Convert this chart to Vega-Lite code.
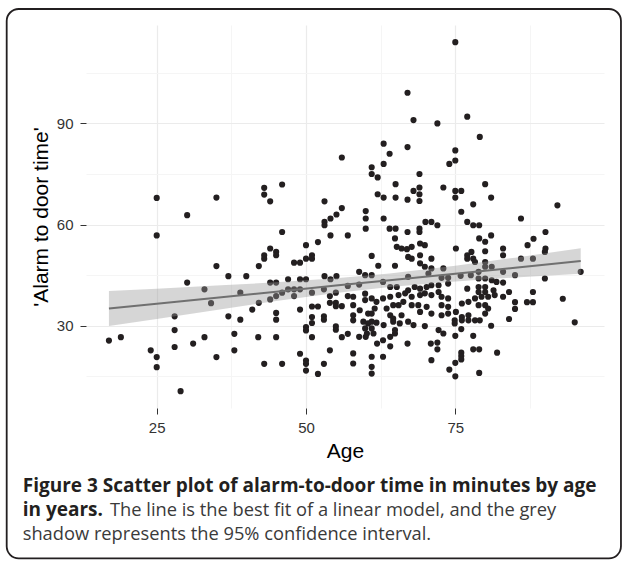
{
  "$schema": "https://vega.github.io/schema/vega-lite/v6.json",
  "width": 518,
  "height": 383,
  "autosize": "none",
  "padding": {"left": 86, "top": 25, "right": 20, "bottom": 154},
  "background": "white",
  "config": {
    "view": {"stroke": null},
    "axis": {"labelFont": "Liberation Sans", "titleFont": "Liberation Sans"}
  },
  "datasets": {
    "pts": [
      {"age":56,"time":79.9},{"age":25,"time":67.9},{"age":35,"time":68},{"age":30.1,"time":62.8},{"age":43,"time":70.9},{"age":43,"time":68.9},{"age":46,"time":71.9},{"age":44,"time":66.9},{"age":53.1,"time":66.9},{"age":56,"time":64.9},{"age":55.1,"time":63},{"age":54.1,"time":61.8},{"age":53.1,"time":60.8},{"age":53.1,"time":59.8},{"age":25,"time":56.8},{"age":46,"time":57.8},{"age":54.1,"time":56.8},{"age":57,"time":56.8},{"age":50,"time":53.9},{"age":52,"time":54.8},{"age":44,"time":52.9},{"age":45,"time":51.9},{"age":45,"time":50.9},{"age":43,"time":50.9},{"age":43,"time":49.9},{"age":35,"time":47.7},{"age":42.1,"time":47.7},{"age":48,"time":48.7},{"age":49,"time":48.7},{"age":50,"time":49.9},{"age":51,"time":50.9},{"age":51,"time":49.9},{"age":37,"time":44.7},{"age":40,"time":44.7},{"age":30.1,"time":42.8},{"age":33,"time":40.8},{"age":39,"time":39.8},{"age":44,"time":42.8},{"age":45,"time":42.8},{"age":47,"time":43.8},{"age":49,"time":43.8},{"age":50,"time":43.8},{"age":53.1,"time":44.7},{"age":55.1,"time":44.7},{"age":54.1,"time":43.8},
      {"age":57,"time":41.8},{"age":47,"time":40.8},{"age":48,"time":40.8},{"age":49,"time":40.8},{"age":53,"time":40.8},{"age":46,"time":39.8},{"age":51,"time":39.8},{"age":55,"time":39.8},{"age":48,"time":38.8},{"age":45,"time":38.8},{"age":54,"time":38.8},{"age":57,"time":38.8},{"age":44,"time":37.8},{"age":42.1,"time":36.8},{"age":34.1,"time":36.7},{"age":54,"time":36.8},{"age":55,"time":36.8},{"age":55,"time":35.8},{"age":56,"time":35.8},{"age":51,"time":35.7},{"age":52,"time":35.7},{"age":41,"time":34.8},{"age":49,"time":34.8},{"age":45,"time":33.8},{"age":37,"time":32.8},{"age":28,"time":32.8},{"age":51,"time":32.6},{"age":53,"time":32.8},{"age":45,"time":31.8},{"age":39,"time":31.8},{"age":53,"time":31.8},{"age":51,"time":30.8},{"age":50,"time":29.6},{"age":55,"time":29.8},{"age":28,"time":28.7},{"age":50,"time":28.6},{"age":55,"time":28.8},{"age":57,"time":27.6},{"age":38,"time":27.6},{"age":17,"time":25.6},{"age":19,"time":26.6},{"age":33,"time":26.6},{"age":42,"time":26.6},{"age":45,"time":26.6},{"age":51,"time":26.6},{"age":56,"time":26.6},{"age":31.1,"time":24.7},{"age":28,"time":23.7},{"age":24,"time":22.7},{"age":38,"time":22.7},{"age":54,"time":22.7},{"age":49,"time":21.7},{"age":25,"time":20.7},{"age":35,"time":20.7},{"age":50,"time":19.7},{"age":43,"time":18.7},{"age":46,"time":18.7},{"age":50,"time":18.7},{"age":53,"time":18.7},{"age":25,"time":17.7},{"age":50,"time":16.7},{"age":52,"time":15.7},{"age":29,"time":10.6},
      {"age":75,"time":114.1},{"age":67,"time":99.1},{"age":68,"time":91},{"age":72,"time":90},{"age":77,"time":92},{"age":79.1,"time":86},{"age":63,"time":84},{"age":64,"time":81},{"age":67,"time":83},{"age":75,"time":82},{"age":61,"time":77},{"age":61,"time":75},{"age":62,"time":74},{"age":63,"time":78},{"age":69,"time":75},{"age":74,"time":78},{"age":75,"time":79},{"age":65,"time":72},{"age":69,"time":71},{"age":68,"time":70},{"age":69,"time":69},{"age":73,"time":71},{"age":75,"time":70},{"age":76,"time":70},{"age":80,"time":72},{"age":62,"time":69},{"age":63,"time":68},{"age":65,"time":68},{"age":67,"time":67.4},{"age":75,"time":68},{"age":81,"time":68},
      {"age":69,"time":67},{"age":78,"time":66},{"age":60,"time":64},{"age":60,"time":61.8},{"age":60,"time":58.8},{"age":63,"time":61.8},{"age":64,"time":58.8},{"age":65,"time":58.8},{"age":67,"time":57.8},{"age":69,"time":58.8},{"age":69,"time":57.8},{"age":70,"time":60.8},{"age":71,"time":60.8},{"age":72,"time":59.8},{"age":76,"time":63.8},{"age":77,"time":60.8},{"age":78,"time":59.8},{"age":79,"time":59.8},{"age":81,"time":56.8},{"age":86,"time":61.8},{"age":92.1,"time":65.7},{"age":90.1,"time":57.8},{"age":88.1,"time":55.8},{"age":87.1,"time":53.9},{"age":90.1,"time":52.9},{"age":90,"time":51.9},{"age":83,"time":52.9},{"age":83,"time":50.9},{"age":86,"time":49.9},{"age":88,"time":49.9},{"age":96,"time":46},{"age":90,"time":44},{"age":93,"time":38},{"age":95,"time":31},{"age":88,"time":40},{"age":88,"time":37},{"age":87,"time":37},{"age":85,"time":37},{"age":85,"time":35},{"age":84,"time":32},{"age":84,"time":40},{"age":83,"time":38.6},{"age":82,"time":22},{"age":81,"time":30},{"age":79,"time":23},{"age":78,"time":23},{"age":79,"time":16},{"age":78,"time":27},{"age":75,"time":27},{"age":76,"time":29},{"age":76,"time":22},{"age":76,"time":21},{"age":76,"time":20},{"age":75,"time":19},{"age":74,"time":17},{"age":75,"time":15},{"age":72,"time":25},{"age":72,"time":23},
      {"age":64.9,"time":55.9},{"age":65.2,"time":53.4},{"age":66,"time":52.9},{"age":66.9,"time":52.7},{"age":67.7,"time":53.4},{"age":69.1,"time":54.4},{"age":69.9,"time":53.9},{"age":67.1,"time":50.4},{"age":67.7,"time":49.9},{"age":69.1,"time":50.9},{"age":71,"time":49.9},{"age":69.1,"time":48.5},{"age":69.9,"time":47.5},{"age":71,"time":47},{"age":61,"time":50.7},{"age":62.1,"time":47.8},{"age":64.9,"time":47.8},{"age":58.9,"time":46},{"age":59.9,"time":45},{"age":61,"time":45},{"age":58.9,"time":42.2},{"age":62.9,"time":43},{"age":67.1,"time":44.5},{"age":70.5,"time":45.5},{"age":64.1,"time":41.5},{"age":65.2,"time":41.5},{"age":67.1,"time":40.5},{"age":68.2,"time":41.5},{"age":69.1,"time":41},{"age":70.2,"time":41.5},{"age":71,"time":42},{"age":57.9,"time":38.6},{"age":57.9,"time":36.1},{"age":59.9,"time":39.5},{"age":59.9,"time":37.6},{"age":61,"time":38.1},{"age":61.8,"time":37.1},{"age":62.9,"time":38.1},{"age":64.1,"time":38.6},{"age":65.5,"time":39.1},{"age":66.6,"time":39.6},{"age":67.7,"time":38.6},{"age":69.1,"time":39.1},{"age":69.9,"time":39.6},{"age":71,"time":39.1},{"age":59,"time":34.6},{"age":60.4,"time":33.6},{"age":61.5,"time":35.1},{"age":63.5,"time":35.1},{"age":64.6,"time":36.1},{"age":65.5,"time":36.1},{"age":66.3,"time":37.1},{"age":67.7,"time":36.1},{"age":68.8,"time":36.1},{"age":70.2,"time":35.6},{"age":57.9,"time":33.1},{"age":61,"time":33.6},{"age":64.1,"time":33.1},{"age":64.6,"time":32.1},{"age":66,"time":33.1},{"age":69.1,"time":34.1},{"age":71,"time":33.6},
      {"age":57.9,"time":31.6},{"age":59.6,"time":31.2},{"age":60.4,"time":30.7},{"age":61,"time":31.2},{"age":61.8,"time":30.9},{"age":63,"time":30.2},{"age":64.6,"time":31.2},{"age":65.7,"time":30.7},{"age":67.1,"time":31.2},{"age":68,"time":30.2},{"age":69.9,"time":29.9},{"age":59.9,"time":29.2},{"age":61,"time":29.2},{"age":60.2,"time":27.7},{"age":61.3,"time":27.7},{"age":58.9,"time":26.7},{"age":60,"time":26.7},{"age":61.9,"time":24.7},{"age":62.9,"time":25.7},{"age":64.1,"time":26.7},{"age":64.9,"time":27.7},{"age":64.9,"time":28.7},{"age":64.1,"time":23.9},{"age":67,"time":24.7},{"age":70.9,"time":24.7},{"age":71,"time":19.8},{"age":57.9,"time":21.8},{"age":57.9,"time":18.8},{"age":61,"time":20.8},{"age":61,"time":17.8},{"age":61,"time":15.8},{"age":62.9,"time":20.8},
      {"age":79,"time":55.9},{"age":80,"time":54.9},{"age":80,"time":52.1},{"age":75.1,"time":52.9},{"age":77,"time":50.9},{"age":77.7,"time":51.9},{"age":77,"time":49.9},{"age":78,"time":49.9},{"age":78.3,"time":48.9},{"age":80,"time":48.9},{"age":73,"time":47},{"age":72.7,"time":44.2},{"age":73.8,"time":44.2},{"age":75.9,"time":44.8},{"age":77.6,"time":45},{"age":78.9,"time":46},{"age":80,"time":47.5},{"age":81.1,"time":47.5},{"age":83,"time":46},{"age":85,"time":45},{"age":78.9,"time":44},{"age":80,"time":44},{"age":81.1,"time":43.5},{"age":81.9,"time":43},{"age":83,"time":42.8},{"age":72.2,"time":42},{"age":73.8,"time":42.5},{"age":72.2,"time":40},{"age":72.7,"time":38.6},{"age":73.8,"time":38.1},{"age":77,"time":41},{"age":78.9,"time":41.5},{"age":80,"time":41.5},{"age":78.9,"time":40},{"age":80,"time":40},{"age":81.4,"time":40.5},{"age":76.1,"time":36.6},{"age":77.2,"time":37.1},{"age":78.3,"time":38.1},{"age":79.4,"time":38.6},{"age":80.5,"time":38.6},{"age":81.6,"time":39.1},{"age":72.7,"time":36.1},{"age":73.8,"time":35.6},{"age":78.9,"time":36.1},{"age":80,"time":36.1},{"age":80.5,"time":35.1},{"age":72.7,"time":33.1},{"age":73.8,"time":33.6},{"age":75.1,"time":34.1},{"age":76.1,"time":32.6},{"age":77.2,"time":33.1},{"age":80,"time":33.6},
      {"age":74.9,"time":31.6},{"age":74.9,"time":30.7},{"age":76.1,"time":31.6},{"age":77.2,"time":31.6},{"age":78.3,"time":31.6},{"age":79.1,"time":31.6},{"age":72.2,"time":28.7},{"age":73,"time":27.7}
    ],
    "band": [
      {"age":17,"lo":29.9,"hi":40.3,"fit":35.1},
      {"age":25,"lo":32.0,"hi":41.0,"fit":36.5},
      {"age":35,"lo":34.7,"hi":41.9,"fit":38.3},
      {"age":45,"lo":37.3,"hi":42.9,"fit":40.1},
      {"age":55,"lo":39.7,"hi":44.1,"fit":41.9},
      {"age":64,"lo":41.5,"hi":45.5,"fit":43.5},
      {"age":75,"lo":43.1,"hi":47.8,"fit":45.45},
      {"age":85,"lo":44.3,"hi":50.2,"fit":47.2},
      {"age":96,"lo":45.4,"hi":53.0,"fit":49.2}
    ]
  },
  "resolve": {"axis": {"x": "independent", "y": "independent"}},
  "layer": [
    {
      "data": {"name": "pts"},
      "mark": {"type": "circle", "size": 38, "color": "#231f20", "opacity": 1},
      "encoding": {
        "x": {"field": "age", "type": "quantitative",
          "scale": {"domain": [13.16, 99.9], "nice": false, "zero": false},
          "axis": {"orient": "bottom", "values": [37.5, 62.5, 87.5], "grid": true, "gridColor": "#f5f5f5", "gridWidth": 1, "labels": false, "ticks": false, "domain": false, "title": null}},
        "y": {"field": "time", "type": "quantitative",
          "scale": {"domain": [5.6, 119.2], "nice": false, "zero": false},
          "axis": {"orient": "left", "values": [15, 45, 75, 105], "grid": true, "gridColor": "#f5f5f5", "gridWidth": 1, "labels": false, "ticks": false, "domain": false, "title": null}}
      }
    },
    {
      "data": {"name": "band"},
      "mark": {"type": "area", "color": "#999999", "opacity": 0.4},
      "encoding": {
        "x": {"field": "age", "type": "quantitative",
          "axis": {"orient": "bottom", "values": [25, 50, 75], "grid": true, "gridColor": "#ebebeb", "gridWidth": 1.2, "domain": false, "ticks": true, "tickColor": "#333333", "tickSize": 6, "tickWidth": 1, "labelFontSize": 15, "labelColor": "#333333", "labelPadding": 6, "title": "Age", "titleFontSize": 21, "titleFontWeight": "normal", "titleColor": "#000000", "titlePadding": 5}},
        "y": {"field": "lo", "type": "quantitative",
          "axis": {"orient": "left", "values": [30, 60, 90], "grid": true, "gridColor": "#ebebeb", "gridWidth": 1.2, "domain": false, "ticks": true, "tickColor": "#333333", "tickSize": 6, "tickWidth": 1, "labelFontSize": 15, "labelColor": "#333333", "labelPadding": 7, "title": "'Alarm to door time'", "titleFontSize": 21, "titleFontWeight": "normal", "titleColor": "#000000", "titlePadding": 5}},
        "y2": {"field": "hi"}
      }
    },
    {
      "data": {"name": "band"},
      "mark": {"type": "line", "color": "#707070", "strokeWidth": 2},
      "encoding": {
        "x": {"field": "age", "type": "quantitative", "axis": null},
        "y": {"field": "fit", "type": "quantitative", "axis": null}
      }
    },
    {
      "data": {"values": [{}]},
      "mark": {"type": "rect", "filled": false, "stroke": "#231f20", "strokeWidth": 1.8, "cornerRadius": 12},
      "encoding": {
        "x": {"datum": -0.12, "type": "quantitative", "axis": null},
        "x2": {"datum": 102.74},
        "y": {"datum": 123.95, "type": "quantitative", "axis": null},
        "y2": {"datum": -39}
      }
    },
    {
      "data": {"values": [{}]},
      "mark": {"type": "text", "font": "Open Sans", "fontSize": 19, "fontWeight": "bold", "color": "#231f20", "align": "left", "baseline": "alphabetic"},
      "encoding": {
        "x": {"datum": 2.56, "type": "quantitative", "axis": null},
        "y": {"datum": -19.3, "type": "quantitative", "axis": null},
        "text": {"value": "Figure 3 Scatter plot of alarm-to-door time in minutes by age"}
      }
    },
    {
      "data": {"values": [{}]},
      "mark": {"type": "text", "font": "Open Sans", "fontSize": 19, "fontWeight": "bold", "color": "#231f20", "align": "left", "baseline": "alphabetic"},
      "encoding": {
        "x": {"datum": 2.56, "type": "quantitative", "axis": null},
        "y": {"datum": -26.4, "type": "quantitative", "axis": null},
        "text": {"value": "in years."}
      }
    },
    {
      "data": {"values": [{}]},
      "mark": {"type": "text", "font": "Open Sans", "fontSize": 18.3, "fontWeight": "normal", "color": "#3a3a3a", "align": "left", "baseline": "alphabetic"},
      "encoding": {
        "x": {"datum": 17.18, "type": "quantitative", "axis": null},
        "y": {"datum": -26.4, "type": "quantitative", "axis": null},
        "text": {"value": "The line is the best fit of a linear model, and the grey"}
      }
    },
    {
      "data": {"values": [{}]},
      "mark": {"type": "text", "font": "Open Sans", "fontSize": 18.3, "fontWeight": "normal", "color": "#3a3a3a", "align": "left", "baseline": "alphabetic"},
      "encoding": {
        "x": {"datum": 2.56, "type": "quantitative", "axis": null},
        "y": {"datum": -33.6, "type": "quantitative", "axis": null},
        "text": {"value": "shadow represents the 95% confidence interval."}
      }
    }
  ]
}
